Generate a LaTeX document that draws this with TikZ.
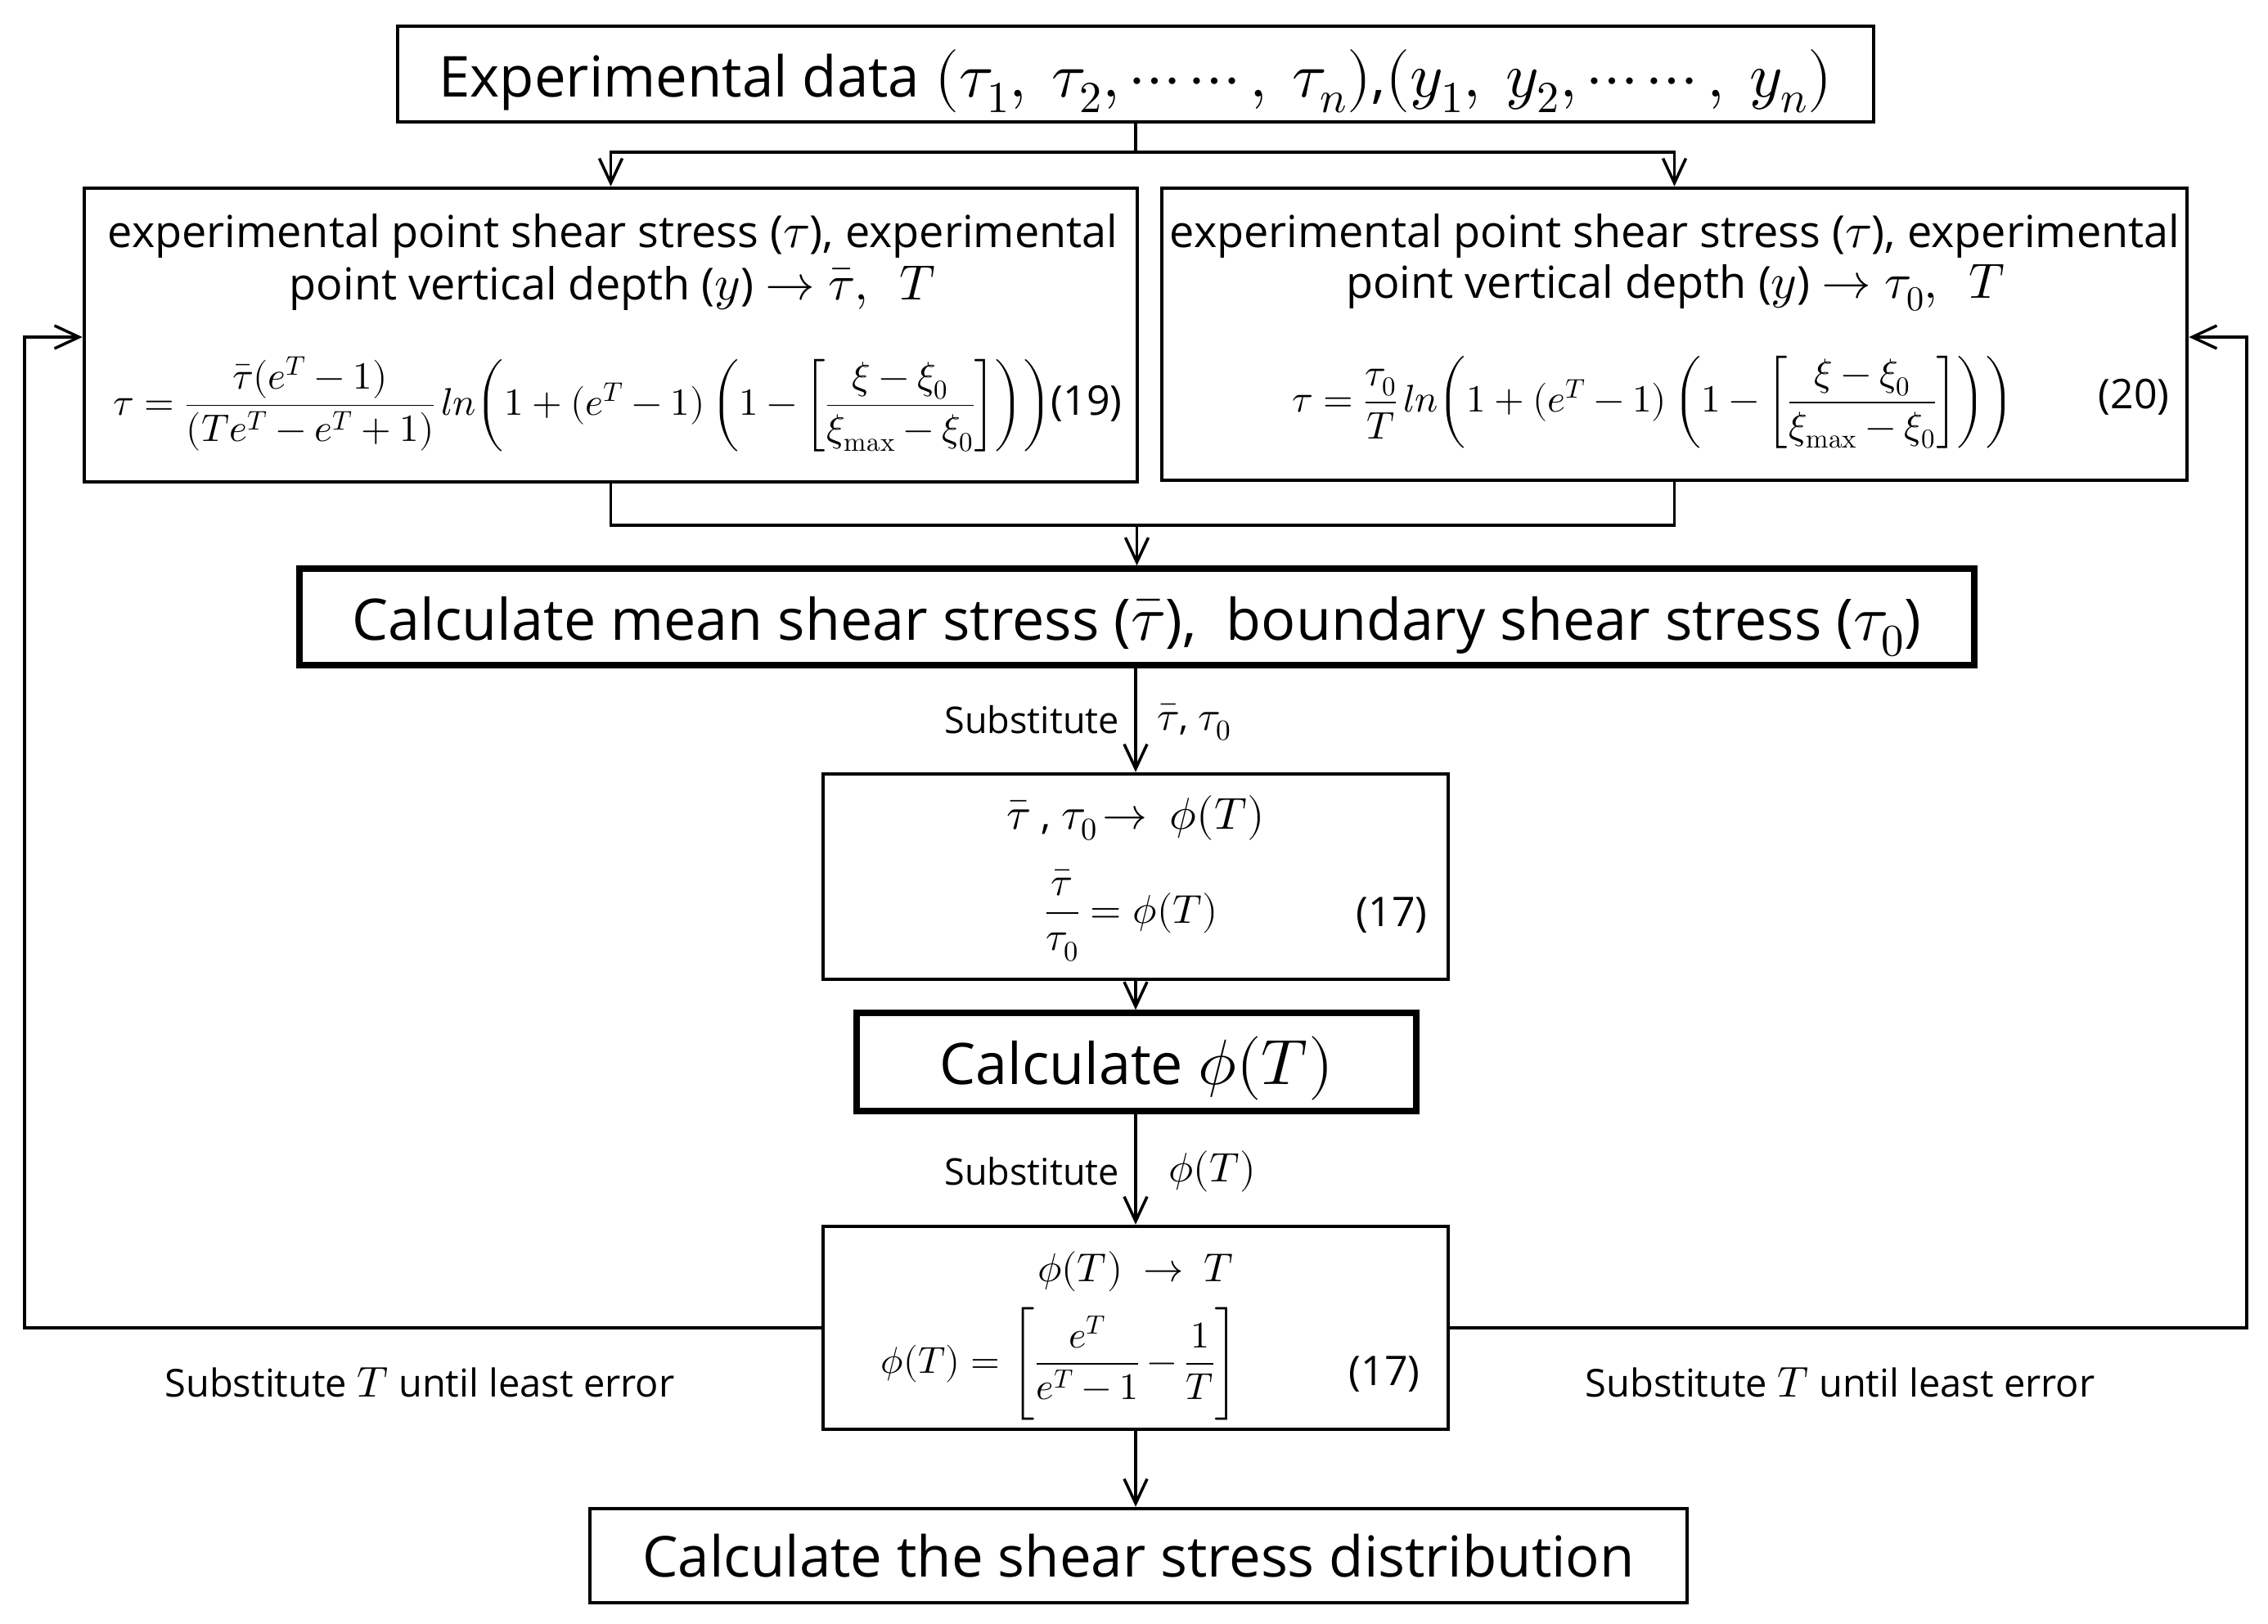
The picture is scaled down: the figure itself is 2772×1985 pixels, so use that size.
\documentclass[tikz,border=0pt]{standalone}
\usepackage{fontspec}
\usepackage{unicode-math}
\setmainfont{Open Sans}
\setmathfont{Latin Modern Math}[Scale=1.12]
\usetikzlibrary{arrows.meta}
\newcommand{\fsz}[1]{\fontsize{#1}{#1}\selectfont}
\newcommand{\lowerby}[2]{\raisebox{-#1}[\height][\depth]{#2}}
\begin{document}
\begin{tikzpicture}[x=1pt,y=-1pt,
  box/.style={draw, line width=4.5pt, inner sep=0pt},
  thickbox/.style={draw, line width=7.5pt, inner sep=0pt},
  line/.style={line width=3.5pt},
  conn/.style={line width=3.5pt, -{Straight Barb[length=30pt,width=28pt,line width=3.5pt]}},
  txt/.style={inner sep=0pt, font=\fsz{54}},
  eqn/.style={inner sep=0pt, font=\fsz{44}},
  lab/.style={inner sep=0pt, font=\fsz{45}}]
\useasboundingbox (0,0) rectangle (2772,1985);

% boxes
\node[box, minimum width=1804pt, minimum height=117pt, font=\fsz{69}] (top) at (1388,90.5)
  {\lowerby{9pt}{Experimental data $(\tau_1,\ \tau_2,\cdots\cdots,\ \tau_n)$,$(y_1,\ y_2,\cdots\cdots,\ y_n)$}};
\node[box, minimum width=1287pt, minimum height=359pt] (lbox) at (746.5,409.5) {};
\node[box, minimum width=1253pt, minimum height=357pt] (rbox) at (2046.5,408.5) {};
\node[thickbox, minimum width=2047pt, minimum height=118pt, font=\fsz{70}] (mean) at (1389.5,754)
  {\lowerby{12pt}{Calculate mean shear stress ($\bar\tau$),\ \ boundary shear stress ($\tau_0$)}};
\node[box, minimum width=764pt, minimum height=251pt] (phi) at (1388,1071.5) {};
\node[thickbox, minimum width=684pt, minimum height=120pt, font=\fsz{70}] (calc) at (1389,1298)
  {\lowerby{8pt}{Calculate $\phi(T)$}};
\node[box, minimum width=764pt, minimum height=248pt] (phiT) at (1388,1623) {};
\node[box, minimum width=1341pt, minimum height=115pt, font=\fsz{69}] (final) at (1391.5,1901.5)
  {Calculate the shear stress distribution};

% left box content
\node[txt] (l1) at (749,288) {experimental point shear stress ($\tau$), experimental};
\node[txt] (l2) at (749,352) {point vertical depth ($y$) $\rightarrow\bar\tau,\ \ T$};
\node[eqn, font=\fsz{42}] (l3) at (755,494) {$\tau=\dfrac{\bar\tau(e^T-1)}{(Te^T-e^T+1)}\,ln\!\left(1+(e^T-1)\left(1-\left[\dfrac{\xi-\xi_0}{\xi_{\symup{max}}-\xi_0}\right]\right)\right)$\fsz{50}(19)};

% right box content
\node[txt] (r1) at (2047,288) {experimental point shear stress ($\tau$), experimental};
\node[txt] (r2) at (2048,352) {point vertical depth ($y$) $\rightarrow\tau_0,\ \ T$};
\node[eqn, font=\fsz{42}] (r3) at (2020,492) {$\tau=\dfrac{\tau_0}{T}\,ln\!\left(1+(e^T-1)\left(1-\left[\dfrac{\xi-\xi_0}{\xi_{\symup{max}}-\xi_0}\right]\right)\right)$};
\node[txt, font=\fsz{50}] (r4) at (2608,485) {(20)};

% phi box content
\node[eqn, font=\fsz{49}] (p1) at (1388,1000) {$\bar\tau$ , $\tau_0\!\rightarrow\ \phi(T)$};
\node[eqn, font=\fsz{44}] (p2) at (1383,1119) {$\dfrac{\bar\tau}{\tau_0}=\phi(T)$};
\node[txt, font=\fsz{50}] (p3) at (1701,1119) {(17)};

% phiT box content
\node[eqn, font=\fsz{44}] (q1) at (1388,1554) {$\phi(T)\ \rightarrow\ T$};
\node[eqn, font=\fsz{41}] (q2) at (1296,1667) {$\phi(T)=\left[\dfrac{e^T}{e^T-1}-\dfrac{1}{T}\right]$};
\node[txt, font=\fsz{50}] (q3) at (1692,1680) {(17)};

% connectors
\coordinate (split) at (1388,186);
\draw[line] (top.south) -- (split);
\draw[conn] (split) -| (lbox.north);
\draw[conn] (split) -| (rbox.north);
\coordinate (merge) at (1389.5,642);
\draw[line] (lbox.south) |- (merge);
\draw[line] (rbox.south) |- (merge);
\draw[conn] (merge) -- (mean.north);
\draw[conn] (mean.south -| phi.north) -- (phi.north);
\draw[conn] (phi.south) -- (phi.south |- calc.north);
\draw[conn] (calc.south -| phiT.north) -- (phiT.north);
\draw[conn] (phiT.south) -- (phiT.south |- final.north);

\node[lab, anchor=east] (s1) at (1368,880) {Substitute};
\node[lab, anchor=west] (s1v) at (1414,883) {$\bar\tau$, $\tau_0$};
\node[lab, anchor=east] (s2) at (1368,1432) {Substitute};
\node[lab, anchor=west] (s2v) at (1428,1432) {$\phi(T)$};

% feedback loops
\coordinate (fbl) at (30,412);
\coordinate (fbr) at (2746,412);
\draw[conn] (phiT.west) -| (fbl) -- (fbl -| lbox.west);
\draw[conn] (phiT.east) -| (fbr) -- (fbr -| rbox.east);
\node[lab, font=\fsz{47}] (ll) at (513,1690) {Substitute $T$ until least error};
\node[lab, font=\fsz{47}] (rl) at (2249,1690) {Substitute $T$ until least error};
\end{tikzpicture}
\end{document}
